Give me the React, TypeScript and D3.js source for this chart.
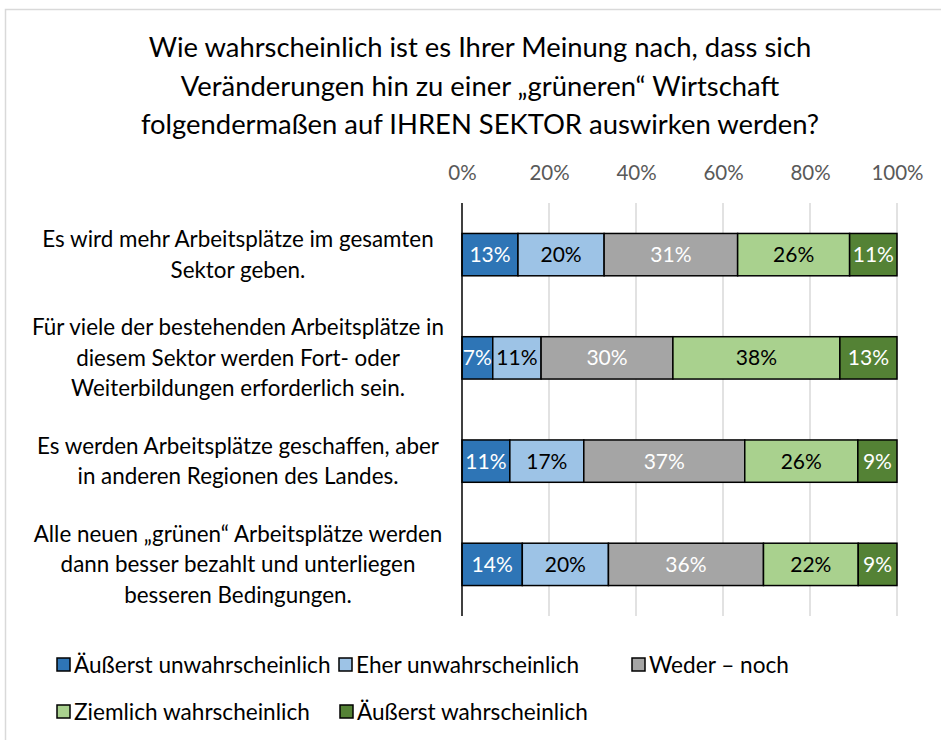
import React, { useEffect, useRef } from 'react';
import * as d3 from 'd3';

// Titel und Kategorien
const titleLines = [
  'Wie wahrscheinlich ist es Ihrer Meinung nach, dass sich',
  'Veränderungen hin zu einer „grüneren“ Wirtschaft',
  'folgendermaßen auf IHREN SEKTOR auswirken werden?',
];

const categories = [
  ['Es wird mehr Arbeitsplätze im gesamten', 'Sektor geben.'],
  ['Für viele der bestehenden Arbeitsplätze in', 'diesem Sektor werden Fort- oder', 'Weiterbildungen erforderlich sein.'],
  ['Es werden Arbeitsplätze geschaffen, aber', 'in anderen Regionen des Landes.'],
  ['Alle neuen „grünen“ Arbeitsplätze werden', 'dann besser bezahlt und unterliegen', 'besseren Bedingungen.'],
];

const seriesNames = [
  'Äußerst unwahrscheinlich',
  'Eher unwahrscheinlich',
  'Weder – noch',
  'Ziemlich wahrscheinlich',
  'Äußerst wahrscheinlich',
];

// Werte in Prozent (je Kategorie)
const extremelyUnlikely = [13, 7, 11, 14];
const ratherUnlikely = [20, 11, 17, 20];
const neither = [31, 30, 37, 36];
const fairlyLikely = [26, 38, 26, 22];
const extremelyLikely = [11, 13, 9, 9];

const tickValues = [0, 0.2, 0.4, 0.6, 0.8, 1];

const colors = ['#2E75B6', '#9DC3E6', '#A5A5A5', '#A9D18E', '#548235'];
const labelColors = ['#ffffff', '#000000', '#ffffff', '#000000', '#ffffff'];

const FONT = "Lato, 'Open Sans', sans-serif";

const App: React.FC = () => {
  const svgRef = useRef<SVGSVGElement | null>(null);

  useEffect(() => {
    if (!svgRef.current) return;
    const svg = d3.select(svgRef.current);
    svg.selectAll('*').remove();

    const width = 941;
    const height = 740;
    const plot = { left: 462, right: 897, top: 203, bottom: 616 };

    // Rahmen
    svg.append('rect')
      .attr('x', 5.5).attr('y', 9.5)
      .attr('width', width + 10).attr('height', height + 10)
      .attr('fill', '#fff').attr('stroke', '#D9D9D9').attr('stroke-width', 1.5);

    // Titel
    svg.append('g')
      .selectAll('text')
      .data(titleLines)
      .join('text')
      .attr('x', 480)
      .attr('y', (d, i) => 57 + i * 38.5)
      .attr('text-anchor', 'middle')
      .attr('font-family', FONT)
      .attr('font-size', 27.4)
      .attr('fill', '#000')
      .text(d => d);

    const keys = seriesNames.map((_, i) => `s${i}`);
    const series = [extremelyUnlikely, ratherUnlikely, neither, fairlyLikely, extremelyLikely];
    const table = categories.map((c, ci) => {
      const row: any = { cat: ci };
      keys.forEach((k, si) => { row[k] = series[si][ci]; });
      return row;
    });
    const stacked = d3.stack<any>().keys(keys).offset(d3.stackOffsetExpand)(table);

    const x = d3.scaleLinear().domain([0, 1]).range([plot.left, plot.right]);
    const y = d3.scaleBand<number>()
      .domain(categories.map((_, i) => i))
      .range([plot.top, plot.bottom])
      .paddingInner(0.59)
      .paddingOuter(0.295);

    // Gitternetz
    svg.append('g')
      .selectAll('line')
      .data(tickValues.slice(1))
      .join('line')
      .attr('x1', d => x(d)).attr('x2', d => x(d))
      .attr('y1', plot.top).attr('y2', plot.bottom)
      .attr('stroke', '#D9D9D9').attr('stroke-width', 1.5);

    // Achsenbeschriftung oben
    const xAxis = svg.append('g')
      .attr('transform', `translate(0,${180})`)
      .call(d3.axisTop(x).tickValues(tickValues).tickFormat(d3.format('.0%')).tickSize(0).tickPadding(0));
    xAxis.select('.domain').remove();
    xAxis.selectAll('text')
      .attr('font-family', FONT)
      .attr('font-size', 20.5)
      .attr('fill', '#595959')
      .attr('dy', 0);

    // Balken
    const layers = svg.append('g')
      .selectAll('g')
      .data(stacked)
      .join('g')
      .attr('fill', (d, i) => colors[i]);

    layers.selectAll('rect')
      .data(d => d)
      .join('rect')
      .attr('x', d => x(d[0]))
      .attr('y', d => y(d.data.cat) as number)
      .attr('width', d => x(d[1]) - x(d[0]))
      .attr('height', y.bandwidth())
      .attr('stroke', '#000')
      .attr('stroke-width', 1.5);

    // Datenbeschriftungen
    stacked.forEach((layer, si) => {
      svg.append('g')
        .selectAll('text')
        .data(layer)
        .join('text')
        .attr('x', d => (x(d[0]) + x(d[1])) / 2)
        .attr('y', d => (y(d.data.cat) as number) + y.bandwidth() / 2)
        .attr('dy', '0.36em')
        .attr('text-anchor', 'middle')
        .attr('font-family', FONT)
        .attr('font-size', 21)
        .attr('fill', labelColors[si])
        .text(d => `${d.data[keys[si]]}%`);
    });

    // Y-Achse
    svg.append('line')
      .attr('x1', plot.left).attr('x2', plot.left)
      .attr('y1', plot.top).attr('y2', plot.bottom)
      .attr('stroke', '#000').attr('stroke-width', 1.5);

    // Kategorien
    const lineH = 30.5;
    const catG = svg.append('g')
      .selectAll('g')
      .data(categories)
      .join('g');
    catG.selectAll('text')
      .data((lines, ci) => lines.map((t, li) => ({ t, li, n: lines.length, ci })))
      .join('text')
      .attr('x', 238)
      .attr('y', d => (y(d.ci) as number) + y.bandwidth() / 2 + (d.li - (d.n - 1) / 2) * lineH)
      .attr('dy', '0.36em')
      .attr('text-anchor', 'middle')
      .attr('font-family', FONT)
      .attr('font-size', 22.4)
      .attr('fill', '#000')
      .text(d => d.t);

    // Legende
    const legendCols = [57, 339, 632];
    const legendRows = [665, 712];
    const legendItems = seriesNames.map((name, i) => ({
      name, i,
      col: i < 3 ? i : i - 3,
      row: i < 3 ? 0 : 1,
    }));
    const legend = svg.append('g')
      .selectAll('g')
      .data(legendItems)
      .join('g')
      .attr('transform', d => `translate(${legendCols[d.col] + (d.row === 1 && d.col === 1 ? 1 : 0)},${legendRows[d.row]})`);
    legend.append('rect')
      .attr('x', 0).attr('y', -7)
      .attr('width', 13).attr('height', 13)
      .attr('fill', d => colors[d.i])
      .attr('stroke', '#000').attr('stroke-width', 1.5);
    legend.append('text')
      .attr('x', 17).attr('y', 0)
      .attr('dy', '0.36em')
      .attr('font-family', FONT)
      .attr('font-size', 22.6)
      .attr('fill', '#000')
      .text(d => d.name);
  }, []);

  return (
    <svg
      ref={svgRef}
      width={941}
      height={740}
      viewBox="0 0 941 740"
      style={{ position: 'absolute', left: 0, top: 0, background: '#fff' }}
    />
  );
};

export default App;
